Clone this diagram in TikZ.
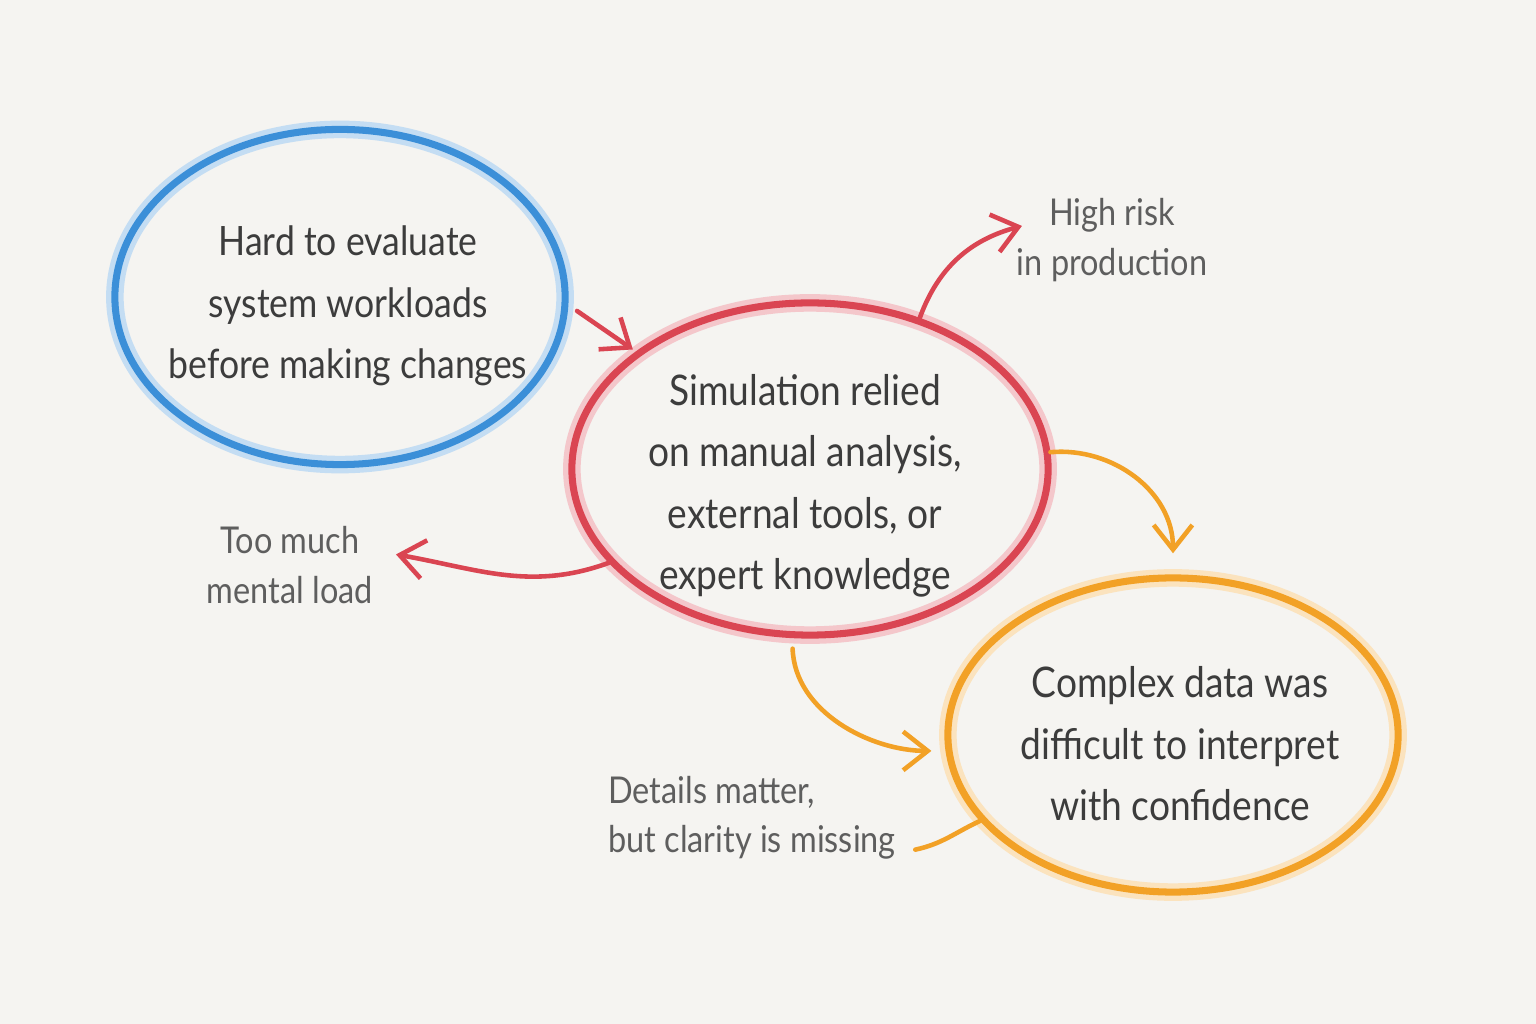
\documentclass[tikz,border=0pt]{standalone}
\usepackage{fontspec}
\setmainfont{Lato}
\newfontfamily\handfont[FakeStretch=0.88]{Lato}
\usetikzlibrary{arrows.meta, positioning, shapes.geometric}

\definecolor{paper}{HTML}{F5F4F1}
\definecolor{pencilblue}{HTML}{3B8FD8}
\definecolor{pencilred}{HTML}{DA4552}
\definecolor{pencilorange}{HTML}{F2A126}
\definecolor{inkgray}{HTML}{3C3C3C}
\definecolor{notegray}{HTML}{5E5E5E}

\begin{document}
\begin{tikzpicture}
   [
      x=0.01cm, y=0.01cm,
      % Style for the big sketched bubbles: colour is the argument
      % (negative inner sep so that the minimum sizes fix the ellipse)
      bubble/.style={ellipse, draw=#1, line width=2pt, inner sep=-30pt,
         preaction={draw=#1!30, line width=5pt}},
      % Style for the text written inside a bubble
      bubble text/.style={text=inkgray, align=center, font=\handfont\fontsize{#1}{17.5}\selectfont},
      % Style for the grey side notes
      side note/.style={text=notegray, font=\handfont\fontsize{10.5}{14}\selectfont},
      % Style for the pencil arrows
      pencil arrow/.style={draw=#1, line width=1.3pt, line cap=round,
         -{Straight Barb[length=7pt, width=11pt, line width=1.3pt]}},
      % Style for the plain pencil line
      pencil line/.style={draw=#1, line width=1.3pt, line cap=round}
   ]

    % paper background and picture size
    \fill[paper] (0,0) rectangle (1536,1024);

    % =======================================================
    % The three bubbles
    % =======================================================
    \node[bubble=pencilblue, minimum width=4.5cm, minimum height=3.35cm] (hard) at (340,727) {};
    \node[bubble text=11.5] (hardtext) at (348,718)
       {Hard to evaluate\\ system workloads\\ before making changes};
    \node[bubble=pencilred, minimum width=4.76cm, minimum height=3.32cm] (sim) at (810,555) {};
    \node[bubble text=12] (simtext) at (805,538)
       {Simulation relied\\ on manual analysis,\\ external tools, or\\ expert knowledge};
    \node[bubble=pencilorange, minimum width=4.5cm, minimum height=3.14cm] (complex) at (1173,289) {};
    \node[bubble text=12] (complextext) at (1180,280)
       {Complex data was\\ difficult to interpret\\ with confidence};

    % =======================================================
    % Side notes
    % =======================================================
    \node[side note, align=center] (risk) at (1112,784) {High risk\\ in production};
    \node[side note, align=center] (load) at (290,459) {Too much\\ mental load};
    \node[side note, align=left] (details) at (752,206) {Details matter,\\ but clarity is missing};

    % =======================================================
    % Connectors
    % =======================================================
    \draw[pencil arrow=pencilred, shorten <=3pt, shorten >=1pt] (hard.-2) -- (sim.146);
    \draw[pencil arrow=pencilred] (sim.54) to[out=70, in=195] ([xshift=5pt, yshift=4pt]risk.west);
    \draw[pencil arrow=pencilred] (sim.205) to[out=200, in=-10] ([xshift=3pt, yshift=3pt]load.east);
    \draw[pencil arrow=pencilorange] (sim.4) to[out=5, in=90] ([yshift=6pt]complex.north);
    \draw[pencil arrow=pencilorange, shorten <=3pt, shorten >=4pt] (sim.264) to[out=-88, in=180] (complex.184);
    \draw[pencil line=pencilorange] (complex.204) to[out=205, in=12] ([xshift=2pt, yshift=-9pt]details.east);

\end{tikzpicture}
\end{document}
